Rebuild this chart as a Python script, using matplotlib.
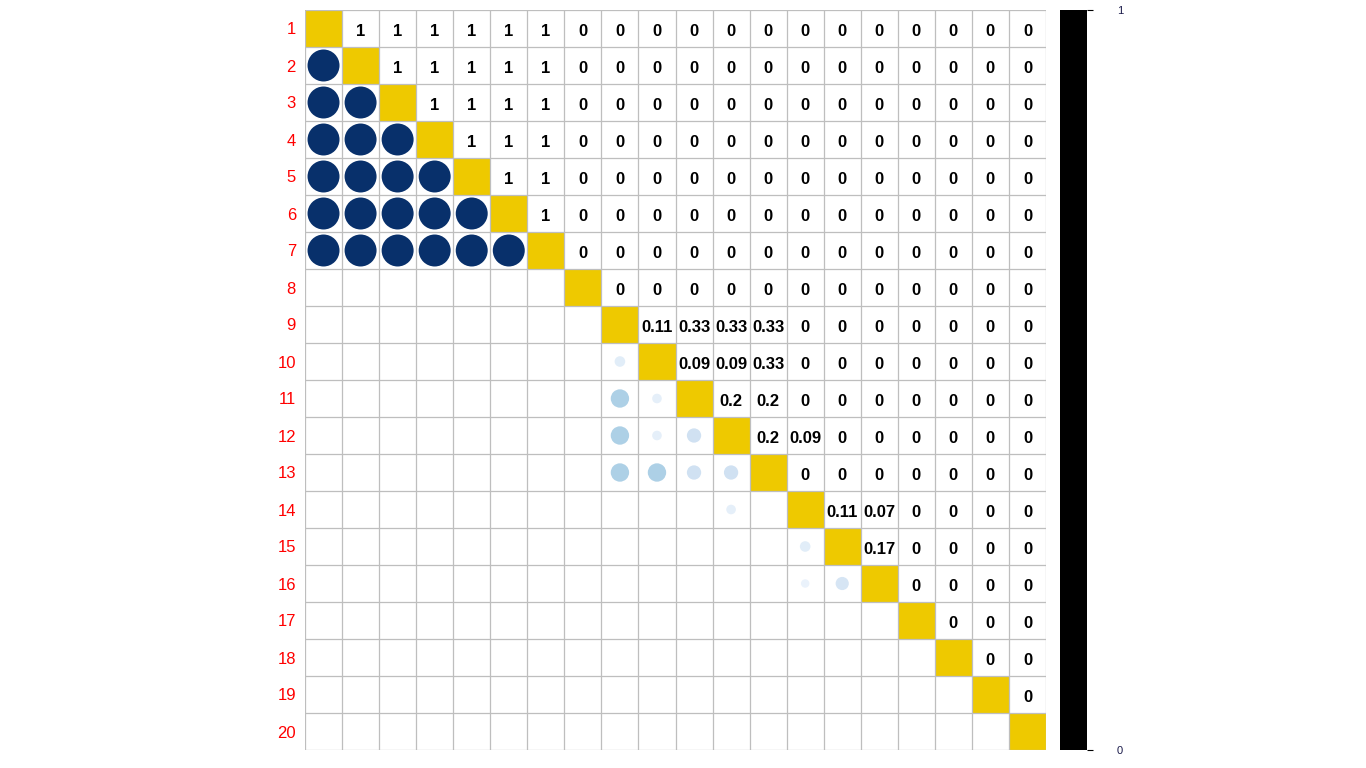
import numpy as np
import matplotlib.pyplot as plt
from matplotlib.patches import Rectangle

# labels of the 20 variables
labels = [str(i) for i in range(1, 21)]

# upper triangle, row by row (values for columns i+1 .. 20)
upper_rows = [
    [1, 1, 1, 1, 1, 1, 0, 0, 0, 0, 0, 0, 0, 0, 0, 0, 0, 0, 0],
    [1, 1, 1, 1, 1, 0, 0, 0, 0, 0, 0, 0, 0, 0, 0, 0, 0, 0],
    [1, 1, 1, 1, 0, 0, 0, 0, 0, 0, 0, 0, 0, 0, 0, 0, 0],
    [1, 1, 1, 0, 0, 0, 0, 0, 0, 0, 0, 0, 0, 0, 0, 0],
    [1, 1, 0, 0, 0, 0, 0, 0, 0, 0, 0, 0, 0, 0, 0],
    [1, 0, 0, 0, 0, 0, 0, 0, 0, 0, 0, 0, 0, 0],
    [0, 0, 0, 0, 0, 0, 0, 0, 0, 0, 0, 0, 0],
    [0, 0, 0, 0, 0, 0, 0, 0, 0, 0, 0, 0],
    [0.11, 0.33, 0.33, 0.33, 0, 0, 0, 0, 0, 0, 0],
    [0.09, 0.09, 0.33, 0, 0, 0, 0, 0, 0, 0],
    [0.2, 0.2, 0, 0, 0, 0, 0, 0, 0],
    [0.2, 0.09, 0, 0, 0, 0, 0, 0],
    [0, 0, 0, 0, 0, 0, 0],
    [0.11, 0.07, 0, 0, 0, 0],
    [0.17, 0, 0, 0, 0],
    [0, 0, 0, 0],
    [0, 0, 0],
    [0, 0],
    [0],
    [],
]

diag_color = '#EEC900'
grid_color = '#BEBEBE'


def build_matrix(rows):
    n = len(rows)
    m = np.eye(n)
    for i, r in enumerate(rows):
        for k, v in enumerate(r):
            j = i + 1 + k
            m[i, j] = v
            m[j, i] = v
    return m


def fmt(v):
    return f"{v:.2f}".rstrip('0').rstrip('.')


def main():
    mat = build_matrix(upper_rows)
    n = len(labels)

    fig = plt.figure(figsize=(13.66, 7.68), dpi=100)
    ax = fig.add_axes([305 / 1366, 18 / 768, 741 / 1366, 740 / 768])
    ax.set_xlim(0, n)
    ax.set_ylim(n, 0)

    # diagonal cells
    for i in range(n):
        ax.add_patch(Rectangle((i, i), 1, 1, facecolor=diag_color,
                               edgecolor='none', zorder=1))

    # grid
    ax.hlines(np.arange(n + 1), 0, n, color=grid_color, lw=0.9, zorder=2)
    ax.vlines(np.arange(n + 1), 0, n, color=grid_color, lw=0.9, zorder=2)

    cmap = plt.get_cmap('Blues')
    xs, ys, ss, cs = [], [], [], []
    for i in range(n):
        for j in range(n):
            v = mat[i, j]
            if j > i:
                ax.text(j + 0.5, i + 0.55, fmt(v), ha='center',
                        va='center_baseline', fontsize=12, fontweight='bold',
                        color='black', family='Liberation Sans', zorder=3)
            elif j < i and v > 0:
                xs.append(j + 0.5)
                ys.append(i + 0.5)
                ss.append(530 * v)
                cs.append(cmap(v))
    ax.scatter(xs, ys, s=ss, c=cs, edgecolors='none', zorder=3)

    ax.set_xticks([])
    ax.set_yticks(np.arange(n) + 0.5)
    ax.set_yticklabels(labels, color='red', fontsize=12,
                       family='Liberation Sans')
    ax.tick_params(axis='y', length=0, pad=6.5)
    for s in ax.spines.values():
        s.set_visible(False)

    # colour bar (solid black)
    cax = fig.add_axes([1060 / 1366, 18 / 768, 27 / 1366, 740 / 768])
    cax.set_facecolor('black')
    cax.set_xlim(0, 1)
    cax.set_ylim(0, 1)
    cax.set_xticks([])
    cax.yaxis.tick_right()
    cax.set_yticks([0, 1])
    cax.set_yticklabels(['0', '1'], fontsize=8, color='#1a1a4a',
                        family='Liberation Sans')
    cax.tick_params(axis='y', length=4.5, width=0.8, pad=17)
    for s in cax.spines.values():
        s.set_visible(False)

    fig.savefig('out.png', dpi=100, facecolor='white')


if __name__ == "__main__":
    main()
